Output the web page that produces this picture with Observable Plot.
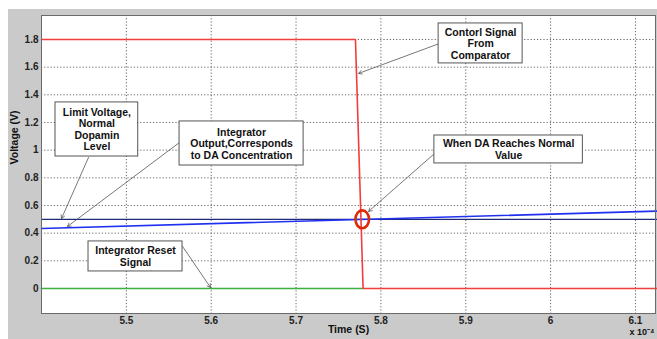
<!DOCTYPE html>
<html>
<head>
<meta charset="utf-8">
<script src="https://cdn.jsdelivr.net/npm/d3@7"></script>
<script src="https://cdn.jsdelivr.net/npm/@observablehq/plot@0.6"></script>
<style>
  html, body { margin: 0; padding: 0; background: #ffffff; width: 657px; height: 339px; overflow: hidden; }
  #chart { position: absolute; left: 8px; top: 9px; }
  #chart svg { background: #cacaca; display: block; }
</style>
</head>
<body>
<div id="chart"></div>
<script>
// ---- Data (time in units of 1e-4 s, voltage in V) ----
const xTicks = [5.5, 5.6, 5.7, 5.8, 5.9, 6.0, 6.1];
const yTicks = [0, 0.2, 0.4, 0.6, 0.8, 1.0, 1.2, 1.4, 1.6, 1.8];

const controlTime = [5.4, 5.770, 5.779, 6.125];
const controlSignal = [1.8, 1.8, 0, 0];

const resetTime = [5.4, 5.779];
const resetSignal = [0, 0];

const limitTime = [5.4, 6.125];
const limitVoltage = [0.5, 0.5];

const integratorTime = [5.4, 6.125];
const integratorOutput = [0.434, 0.559];

const crossingTime = [5.778];
const crossingVoltage = [0.5];

// annotations (data coordinates)
const noteLabels = [
  "Contorl Signal\nFrom\nComparator",
  "When DA Reaches Normal\nValue",
  "Limit Voltage,\nNormal\nDopamin\nLevel",
  "Integrator\nOutput,Corresponds\nto DA Concentration",
  "Integrator Reset\nSignal"
];
const noteX1 = [5.868, 5.863, 5.4165, 5.5627, 5.4554];
const noteX2 = [5.967, 6.038, 5.514, 5.7089, 5.5662];
const noteY1 = [1.627, 0.904, 0.954, 0.889, 0.123];
const noteY2 = [1.916, 1.106, 1.345, 1.2075, 0.340];
const arrowFromX = [5.8692, 5.8633, 5.4554, 5.5627, 5.5662];
const arrowFromY = [1.7715, 0.976, 0.947, 1.0557, 0.304];
const arrowToX = [5.7737, 5.7855, 5.4236, 5.4306, 5.5992];
const arrowToY = [1.5546, 0.557, 0.506, 0.448, 0.007];

// ---- build tables ----
const zipXY = (xs, ys) => xs.map((x, i) => ({x, y: ys[i]}));
const control = zipXY(controlTime, controlSignal);
const reset = zipXY(resetTime, resetSignal);
const limit = zipXY(limitTime, limitVoltage);
const integ = zipXY(integratorTime, integratorOutput);
const crossing = zipXY(crossingTime, crossingVoltage);
const notes = noteLabels.map((t, i) => ({
  t, x1: noteX1[i], x2: noteX2[i], y1: noteY1[i], y2: noteY2[i],
  cx: (noteX1[i] + noteX2[i]) / 2, cy: (noteY1[i] + noteY2[i]) / 2,
  ax1: arrowFromX[i], ay1: arrowFromY[i], ax2: arrowToX[i], ay2: arrowToY[i]
}));

const ellipse = {
  draw(context, size) {
    const r = Math.sqrt(size / Math.PI);
    const rx = 0.85 * r, ry = 1.12 * r, k = 0.5523;
    context.moveTo(rx, 0);
    context.bezierCurveTo(rx, ry * k, rx * k, ry, 0, ry);
    context.bezierCurveTo(-rx * k, ry, -rx, ry * k, -rx, 0);
    context.bezierCurveTo(-rx, -ry * k, -rx * k, -ry, 0, -ry);
    context.bezierCurveTo(rx * k, -ry, rx, -ry * k, rx, 0);
    context.closePath();
  }
};

const font = "'Liberation Sans', Arial, sans-serif";

const chart = Plot.plot({
  width: 649,
  height: 330,
  marginLeft: 33,
  marginRight: 2,
  marginTop: 6,
  marginBottom: 26,
  style: { fontFamily: font, background: "#cacaca", overflow: "visible" },
  x: { domain: [5.4, 6.1236] },
  y: { domain: [-0.181, 1.9735] },
  marks: [
    Plot.frame({ fill: "white", stroke: "none" }),
    Plot.gridX(xTicks, { stroke: "#555", strokeOpacity: 1, strokeWidth: 0.9, strokeDasharray: "1.2,2" }),
    Plot.gridY(yTicks, { stroke: "#555", strokeOpacity: 1, strokeWidth: 0.9, strokeDasharray: "1.2,2" }),
    Plot.axisX(xTicks, { tickSize: 0, tickPadding: 3, fontSize: 10, fontWeight: "bold", fill: "#222", label: null,
      tickFormat: d => d3.format("~g")(d) }),
    Plot.axisY(yTicks, { tickSize: 0, tickPadding: 3, fontSize: 10, fontWeight: "bold", fill: "#222", label: null,
      tickFormat: d => d3.format("~g")(d) }),
    Plot.line(limit, { x: "x", y: "y", stroke: "#1f2a78", strokeWidth: 1.3 }),
    Plot.line(integ, { x: "x", y: "y", stroke: "#2030f0", strokeWidth: 1.6 }),
    Plot.line(reset, { x: "x", y: "y", stroke: "#3cb043", strokeWidth: 1.6 }),
    Plot.line(control, { x: "x", y: "y", stroke: "#f43c3c", strokeWidth: 1.6 }),
    Plot.dot(crossing, { x: "x", y: "y", r: 8, symbol: ellipse, stroke: "#dd2a08", strokeWidth: 2.6, fill: "none" }),
    Plot.arrow(notes, { x1: "ax1", y1: "ay1", x2: "ax2", y2: "ay2", stroke: "#555", strokeWidth: 0.8, headLength: 7 }),
    Plot.rect(notes, { x1: "x1", x2: "x2", y1: "y1", y2: "y2", fill: "white", stroke: "#555", strokeWidth: 1 }),
    Plot.text(notes, { x: "cx", y: "cy", text: "t", fontSize: 10.5, fontWeight: "bold", fill: "#111", lineHeight: 1.1 }),
    Plot.frame({ stroke: "#6a6a6a", strokeWidth: 1 }),
    Plot.text(["Time (S)"], { frameAnchor: "bottom", dy: 19.5, fontSize: 10.5, fontWeight: "bold", fill: "#111" }),
    Plot.text(["Voltage (V)"], { frameAnchor: "left", dx: -27, rotate: -90, fontSize: 10.5, fontWeight: "bold", fill: "#111" }),
    Plot.text(["x 10\u207B\u2074"], { frameAnchor: "bottom-right", dy: 21.5, dx: -1, textAnchor: "end", fontSize: 9, fontWeight: "bold", fill: "#111" })
  ]
});
document.getElementById("chart").appendChild(chart);
</script>
</body>
</html>
